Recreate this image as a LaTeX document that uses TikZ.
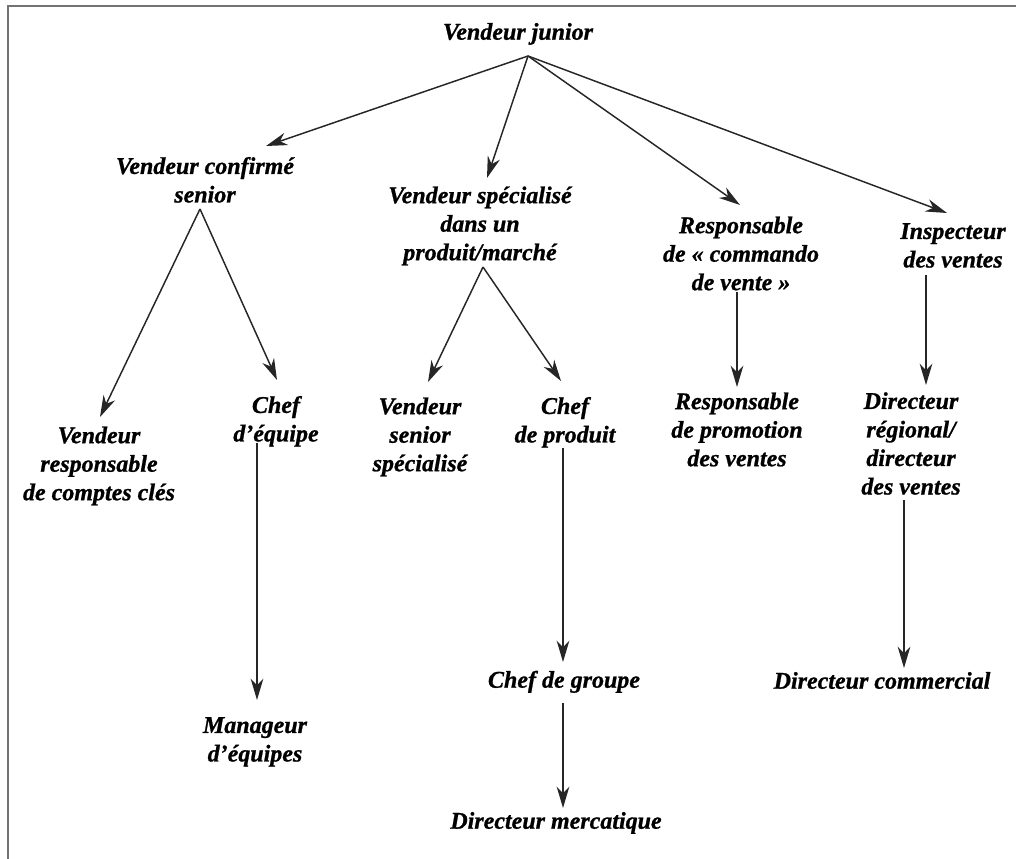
\documentclass[tikz,border=0pt]{standalone}
\usepackage{fontspec}
\setmainfont{Liberation Serif}[BoldItalicFeatures={FakeBold=0.9}]
\usetikzlibrary{arrows.meta}
\begin{document}
\begin{tikzpicture}[x=0.75pt,y=-0.75pt,
  lbl/.style={inner sep=0pt, align=center, font=\fontsize{18}{21.4}\selectfont\bfseries\itshape},
  conn/.style={draw=black!85, line width=1.1pt, -{Stealth[length=16pt,width=9.5pt,inset=5pt]}},
  frame/.style={draw=black!55, line width=1.6pt}]
\useasboundingbox (0,0) rectangle (1016,859);
\draw[frame] (1016,6) -- (8,6) -- (8,859);

% nodes
\node[lbl] (junior)   at (518,34)    {\strut Vendeur junior};
\node[lbl] (conf)     at (205,182.5) {\strut Vendeur confirmé\\\strut senior};
\node[lbl] (spec)     at (480,226)   {\strut Vendeur spécialisé\\\strut dans un\\\strut produit/marché};
\node[lbl] (resp)     at (741,256)   {\strut Responsable\\\strut de « commando\\\strut de vente »};
\node[lbl] (insp)     at (953,247.5) {\strut Inspecteur\\\strut des ventes};
\node[lbl] (vrcc)     at (99,466)    {\strut Vendeur\\\strut responsable\\\strut de comptes clés};
\node[lbl] (chefeq)   at (276,421.5) {\strut Chef\\\strut d’équipe};
\node[lbl] (vss)      at (420,437)   {\strut Vendeur\\\strut senior\\\strut spécialisé};
\node[lbl] (chefprod) at (565,422.5) {\strut Chef\\\strut de produit};
\node[lbl] (rpv)      at (737,432)   {\strut Responsable\\\strut de promotion\\\strut des ventes};
\node[lbl] (dir)      at (911,446)   {\strut Directeur\\\strut régional/\\\strut directeur\\\strut des ventes};
\node[lbl] (manag)    at (255,741.5) {\strut Manageur\\\strut d’équipes};
\node[lbl] (chefgr)   at (564,682)   {\strut Chef de groupe};
\node[lbl] (dircom)   at (882,683)   {\strut Directeur commercial};
\node[lbl] (dirmer)   at (556,823)   {\strut Directeur mercatique};

% connector end points
\coordinate (junior-o)   at (528,56);
\coordinate (conf-i)     at (266,146);
\coordinate (spec-i)     at (487,178);
\coordinate (resp-i)     at (740,205);
\coordinate (insp-i)     at (947,213);
\coordinate (conf-o)     at (200,209);
\coordinate (vrcc-i)     at (100,417);
\coordinate (chefeq-i)   at (277,380);
\coordinate (spec-o)     at (483,267);
\coordinate (vss-i)      at (428,382);
\coordinate (chefprod-i) at (561,381);
\coordinate (resp-o)     at (737,292);
\coordinate (rpv-i)      at (737,387);
\coordinate (insp-o)     at (926,275);
\coordinate (dir-i)      at (926,385);
\coordinate (chefeq-o)   at (257,443);
\coordinate (manag-i)    at (257,700);
\coordinate (chefprod-o) at (563,448);
\coordinate (chefgr-i)   at (563,662);
\coordinate (chefgr-o)   at (563,703);
\coordinate (dirmer-i)   at (563,808);
\coordinate (dir-o)      at (904,500);
\coordinate (dircom-i)   at (904,668);

% connectors
\draw[conn] (junior-o) -- (conf-i);
\draw[conn] (junior-o) -- (spec-i);
\draw[conn] (junior-o) -- (resp-i);
\draw[conn] (junior-o) -- (insp-i);
\draw[conn] (conf-o) -- (vrcc-i);
\draw[conn] (conf-o) -- (chefeq-i);
\draw[conn] (spec-o) -- (vss-i);
\draw[conn] (spec-o) -- (chefprod-i);
\draw[conn] (resp-o) -- (rpv-i);
\draw[conn] (insp-o) -- (dir-i);
\draw[conn] (chefeq-o) -- (manag-i);
\draw[conn] (chefprod-o) -- (chefgr-i);
\draw[conn] (chefgr-o) -- (dirmer-i);
\draw[conn] (dir-o) -- (dircom-i);
\end{tikzpicture}
\end{document}
